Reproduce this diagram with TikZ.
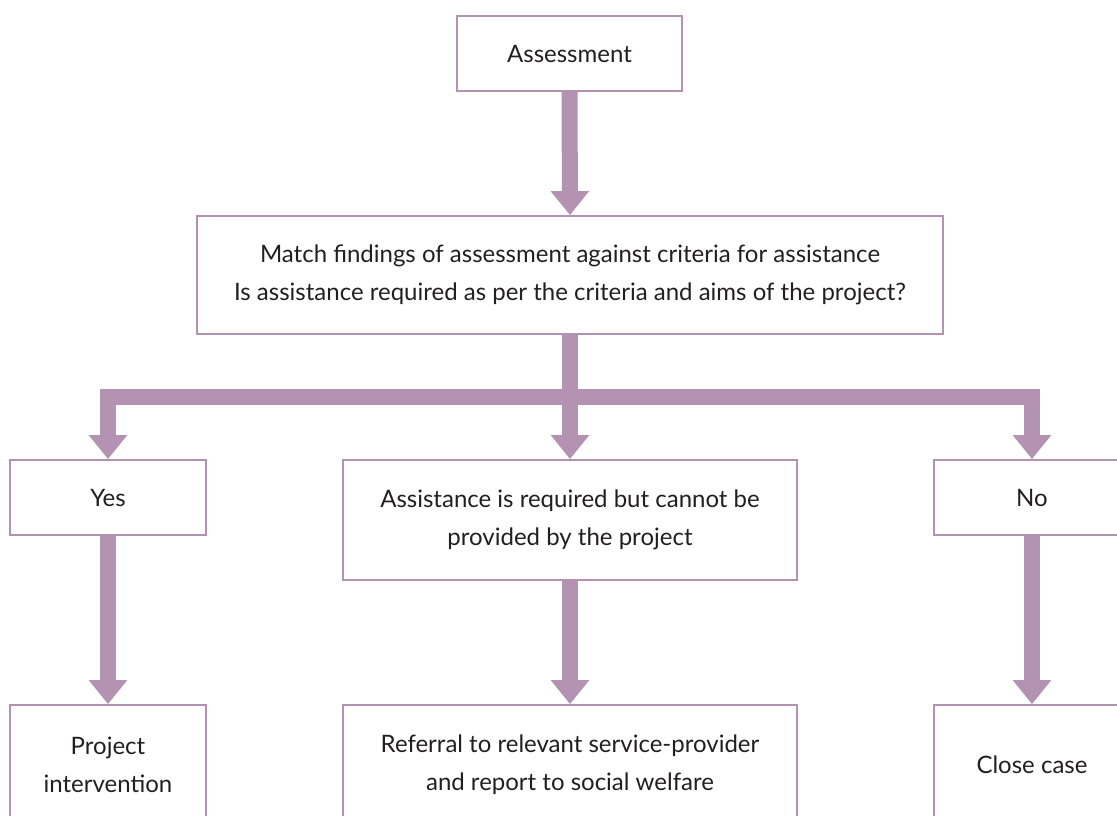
\documentclass[tikz,border=0pt]{standalone}
\usepackage{fontspec}
\setmainfont{Lato}
\usetikzlibrary{arrows.meta}
\definecolor{mauve}{RGB}{180,146,178}
\definecolor{ink}{RGB}{35,31,32}
\begin{document}
\begin{tikzpicture}[x=1pt,y=-1pt,
  box/.style={draw=mauve, line width=1.8pt, rectangle, inner sep=0pt, align=center, text=ink, font=\fontsize{24}{38}\selectfont},
  flow/.style={draw=mauve, line width=16pt, line join=miter, -{Triangle[width=37pt,length=24pt]}},
]
\useasboundingbox (0,0) rectangle (1117,816);
\clip (0,0) rectangle (1117,816);

\node[box, minimum width=225pt, minimum height=75pt] (assess) at (569.5,53.5) {Assessment};
\node[box, minimum width=746pt, minimum height=118pt] (match) at (570,275) {Match findings of assessment against criteria for assistance\\Is assistance required as per the criteria and aims of the project?};
\node[box, minimum width=196pt, minimum height=75pt] (yes) at (108,497.5) {Yes};
\node[box, minimum width=454pt, minimum height=120pt] (mid) at (570,520) {Assistance is required but cannot be\\provided by the project};
\node[box, minimum width=196pt, minimum height=75pt] (no) at (1032,497.5) {No};
\node[box, minimum width=196pt, minimum height=120pt] (proj) at (108,765) {Project\\intervention};
\node[box, minimum width=454pt, minimum height=120pt] (ref) at (570,765) {Referral to relevant service-provider\\and report to social welfare};
\node[box, minimum width=196pt, minimum height=120pt] (close) at (1032,765) {Close case};

\coordinate (bar) at (570,397);

\draw[flow] (assess.south) -- (match.north);
\draw[flow] (bar) -| (yes.north);
\draw[flow] (bar) -| (no.north);
\draw[flow] (match.south) -- (mid.north);
\draw[flow] (yes.south) -- (proj.north);
\draw[flow] (mid.south) -- (ref.north);
\draw[flow] (no.south) -- (close.north);
\end{tikzpicture}
\end{document}
